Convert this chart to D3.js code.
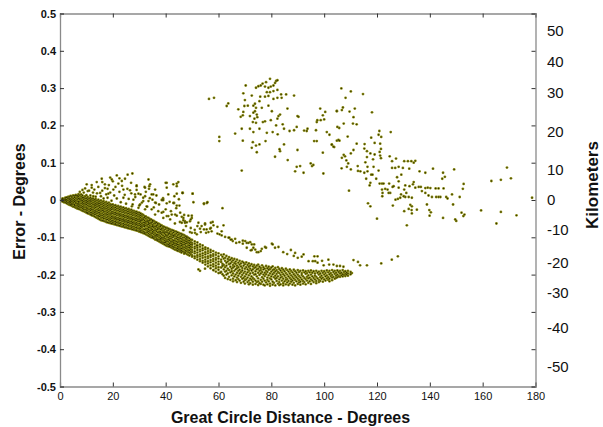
<!DOCTYPE html>
<html>
<head>
<meta charset="utf-8">
<script src="https://cdn.jsdelivr.net/npm/d3@7"></script>
<style>
body { margin: 0; background: #fff; }
text { font-family: Arial, "Liberation Sans", sans-serif; }
</style>
</head>
<body>
<svg width="603" height="427"></svg>
<script>
// tick values
var xTicks = [0, 20, 40, 60, 80, 100, 120, 140, 160, 180];
var yTicks = [0.5, 0.4, 0.3, 0.2, 0.1, 0, -0.1, -0.2, -0.3, -0.4, -0.5];
var kmLabels = [50, 40, 30, 20, 10, 0, -10, -20, -30, -40, -50];
var kmAt = [0.454, 0.371, 0.288, 0.184, 0.082, 0, -0.079, -0.168, -0.248, -0.342, -0.446];

// dense main band, read column by column (degrees -> errors)
var coreDeg = [0.5,1,1.5,2,2.5,3,3.5,4,4.5,5,5.5,6,6.5,7,7.5,8,8.5,9,9.5,10,10.5,11,11.5,12,12.5,13,13.5,14,14.5,15,15.5,16,16.5,17,17.5,18,18.5,19,19.5,20,20.5,21,21.5,22,22.5,23,23.5,24,24.5,25,25.5,26,26.5,27,27.5,28,28.5,29,29.5,30,30.5,
  31,31.5,32,32.5,33,33.5,34,34.5,35,35.5,36,36.5,37,37.5,38,38.5,39,39.5,40,40.5,41,41.5,42,42.5,43,43.5,44,44.5,45,45.5,46,46.5,47,47.5,48,48.5,49,49.5,50,51,52,53,54,55,56,57,58,59,60];
var coreErr = [
  [0.002,-0.001,-0.003],[0.004,0.001,-0.004],[0.003,0,-0.003,-0.006],[0.006,0.002,-0.002,-0.007],
  [0.007,0.001,-0.003,-0.005,-0.009],[0.008,0.004,-0.001,-0.007,-0.011],[0.009,0.005,0.001,-0.004,-0.008,-0.013],
  [0.011,0.003,-0.002,-0.006,-0.011,-0.014],[0.01,0.006,0.001,-0.004,-0.009,-0.012,-0.016],[0.012,0.004,-0.002,-0.007,-0.011,-0.018],
  [0.011,0.007,0.001,-0.004,-0.012,-0.015,-0.019],[0.014,0.005,-0.001,-0.006,-0.009,-0.016,-0.021],
  [0.012,0.008,0.002,-0.003,-0.01,-0.014,-0.019,-0.023],[0.01,0.004,-0.004,-0.008,-0.013,-0.018,-0.024],
  [0.013,0.005,0.001,-0.005,-0.011,-0.016,-0.021,-0.025],[0.009,0.003,-0.002,-0.009,-0.015,-0.02,-0.027],
  [0.012,0.006,-0.001,-0.006,-0.011,-0.018,-0.023,-0.029],[0.007,0.002,-0.004,-0.01,-0.016,-0.021,-0.025,-0.03],
  [0.01,0.004,-0.002,-0.008,-0.013,-0.019,-0.026,-0.032],[0.005,-0.001,-0.006,-0.012,-0.019,-0.024,-0.029,-0.034],
  [0.008,0.002,-0.004,-0.009,-0.015,-0.022,-0.027,-0.033,-0.036],[0.004,-0.002,-0.008,-0.013,-0.018,-0.025,-0.031,-0.037],
  [0.006,0,-0.005,-0.011,-0.017,-0.023,-0.028,-0.034,-0.039],[0.003,-0.003,-0.009,-0.016,-0.021,-0.026,-0.033,-0.038,-0.041],
  [0.004,-0.001,-0.007,-0.012,-0.019,-0.025,-0.03,-0.036,-0.042],[0.001,-0.005,-0.011,-0.016,-0.022,-0.029,-0.034,-0.039,-0.044],
  [0.003,-0.003,-0.009,-0.014,-0.02,-0.027,-0.032,-0.038,-0.046],[-0.001,-0.007,-0.012,-0.018,-0.025,-0.031,-0.036,-0.042,-0.048],
  [0.001,-0.005,-0.01,-0.016,-0.023,-0.028,-0.034,-0.041,-0.045,-0.05],[-0.003,-0.009,-0.015,-0.02,-0.027,-0.033,-0.038,-0.044,-0.052],
  [-0.001,-0.007,-0.012,-0.019,-0.024,-0.03,-0.037,-0.042,-0.048,-0.054],[-0.005,-0.011,-0.017,-0.023,-0.028,-0.035,-0.041,-0.047,-0.055],
  [-0.003,-0.009,-0.015,-0.021,-0.027,-0.032,-0.039,-0.045,-0.05,-0.056],[-0.007,-0.013,-0.019,-0.024,-0.031,-0.037,-0.043,-0.049,-0.057],
  [-0.005,-0.011,-0.017,-0.023,-0.029,-0.035,-0.04,-0.047,-0.053,-0.059],[-0.009,-0.015,-0.021,-0.027,-0.033,-0.039,-0.045,-0.052,-0.06],
  [-0.007,-0.013,-0.019,-0.025,-0.031,-0.037,-0.043,-0.049,-0.055,-0.061],[-0.011,-0.016,-0.023,-0.028,-0.035,-0.04,-0.047,-0.052,-0.058,-0.062],
  [-0.013,-0.02,-0.025,-0.032,-0.037,-0.044,-0.049,-0.056,-0.063],[-0.012,-0.018,-0.024,-0.031,-0.036,-0.043,-0.048,-0.055,-0.06,-0.064],
  [-0.015,-0.021,-0.027,-0.034,-0.039,-0.046,-0.051,-0.058,-0.065],[-0.014,-0.02,-0.026,-0.033,-0.038,-0.045,-0.05,-0.057,-0.062,-0.066],
  [-0.017,-0.023,-0.029,-0.036,-0.041,-0.048,-0.053,-0.06,-0.067],[-0.016,-0.022,-0.028,-0.035,-0.04,-0.047,-0.052,-0.059,-0.064,-0.068],
  [-0.019,-0.025,-0.031,-0.038,-0.043,-0.05,-0.055,-0.062,-0.069],[-0.018,-0.024,-0.03,-0.037,-0.042,-0.049,-0.054,-0.061,-0.066,-0.07],
  [-0.021,-0.027,-0.033,-0.04,-0.045,-0.052,-0.057,-0.064,-0.071],[-0.02,-0.026,-0.032,-0.039,-0.044,-0.051,-0.056,-0.063,-0.068,-0.072],
  [-0.023,-0.029,-0.035,-0.042,-0.047,-0.054,-0.059,-0.066,-0.073],[-0.022,-0.028,-0.034,-0.041,-0.046,-0.053,-0.058,-0.065,-0.07,-0.074],
  [-0.025,-0.031,-0.037,-0.044,-0.049,-0.056,-0.061,-0.068,-0.075],[-0.024,-0.03,-0.036,-0.043,-0.048,-0.055,-0.06,-0.067,-0.072,-0.076],
  [-0.027,-0.033,-0.039,-0.046,-0.051,-0.058,-0.063,-0.07,-0.077],[-0.026,-0.032,-0.038,-0.045,-0.05,-0.057,-0.062,-0.069,-0.074,-0.078],
  [-0.029,-0.035,-0.041,-0.048,-0.053,-0.06,-0.065,-0.072,-0.079],[-0.029,-0.034,-0.04,-0.047,-0.052,-0.059,-0.064,-0.071,-0.076,-0.08],
  [-0.032,-0.037,-0.043,-0.05,-0.055,-0.062,-0.067,-0.074,-0.081],[-0.031,-0.036,-0.042,-0.049,-0.054,-0.061,-0.066,-0.073,-0.078,-0.082],
  [-0.034,-0.039,-0.045,-0.052,-0.057,-0.064,-0.069,-0.076,-0.083],[-0.034,-0.04,-0.045,-0.051,-0.057,-0.063,-0.068,-0.075,-0.08,-0.085],
  [-0.036,-0.041,-0.047,-0.054,-0.059,-0.066,-0.071,-0.077,-0.083,-0.086],
  [-0.038,-0.043,-0.051,-0.055,-0.063,-0.069,-0.073,-0.081,-0.087],[-0.04,-0.048,-0.052,-0.06,-0.066,-0.07,-0.078,-0.084,-0.089],
  [-0.043,-0.047,-0.055,-0.061,-0.067,-0.071,-0.079,-0.086,-0.09],[-0.044,-0.05,-0.058,-0.062,-0.068,-0.076,-0.08,-0.088,-0.092],
  [-0.047,-0.054,-0.058,-0.066,-0.07,-0.077,-0.083,-0.087,-0.094],[-0.048,-0.056,-0.061,-0.065,-0.073,-0.079,-0.084,-0.09,-0.096],
  [-0.051,-0.055,-0.063,-0.069,-0.074,-0.082,-0.086,-0.093,-0.098],[-0.052,-0.06,-0.064,-0.072,-0.077,-0.081,-0.089,-0.094,-0.1],
  [-0.055,-0.059,-0.067,-0.071,-0.079,-0.085,-0.089,-0.097,-0.101],[-0.056,-0.064,-0.07,-0.074,-0.082,-0.086,-0.092,-0.099,-0.103],
  [-0.059,-0.063,-0.071,-0.077,-0.081,-0.089,-0.095,-0.099,-0.106],[-0.06,-0.068,-0.072,-0.08,-0.084,-0.092,-0.096,-0.102,-0.107],
  [-0.063,-0.067,-0.075,-0.079,-0.087,-0.093,-0.097,-0.105,-0.109],[-0.064,-0.072,-0.076,-0.084,-0.088,-0.094,-0.1,-0.106,-0.111],
  [-0.067,-0.071,-0.079,-0.085,-0.089,-0.097,-0.103,-0.107,-0.113],[-0.068,-0.076,-0.08,-0.088,-0.092,-0.1,-0.104,-0.11,-0.115],
  [-0.071,-0.075,-0.083,-0.087,-0.095,-0.101,-0.105,-0.113,-0.117],[-0.072,-0.08,-0.086,-0.09,-0.098,-0.102,-0.108,-0.114,-0.119],
  [-0.074,-0.078,-0.086,-0.092,-0.096,-0.104,-0.11,-0.114,-0.121],[-0.075,-0.083,-0.087,-0.095,-0.099,-0.107,-0.111,-0.118,-0.123],
  [-0.077,-0.081,-0.089,-0.093,-0.101,-0.106,-0.112,-0.119,-0.124],[-0.078,-0.086,-0.09,-0.098,-0.104,-0.108,-0.116,-0.121,-0.125],
  [-0.08,-0.084,-0.092,-0.097,-0.103,-0.111,-0.115,-0.122,-0.127],[-0.081,-0.089,-0.094,-0.1,-0.107,-0.112,-0.119,-0.124,-0.129],
  [-0.082,-0.087,-0.095,-0.099,-0.108,-0.113,-0.118,-0.126,-0.131],[-0.084,-0.092,-0.096,-0.104,-0.109,-0.116,-0.122,-0.127,-0.133],
  [-0.085,-0.09,-0.098,-0.103,-0.111,-0.117,-0.121,-0.129,-0.134],[-0.087,-0.094,-0.1,-0.106,-0.113,-0.119,-0.125,-0.13,-0.136],
  [-0.088,-0.093,-0.101,-0.107,-0.112,-0.12,-0.126,-0.132,-0.137],[-0.09,-0.098,-0.103,-0.11,-0.116,-0.123,-0.129,-0.134,-0.139],
  [-0.091,-0.096,-0.104,-0.111,-0.117,-0.122,-0.13,-0.136,-0.141],[-0.093,-0.101,-0.107,-0.113,-0.12,-0.126,-0.131,-0.138],
  [-0.094,-0.1,-0.108,-0.114,-0.119,-0.127,-0.133,-0.14,-0.144],[-0.097,-0.104,-0.11,-0.117,-0.123,-0.129,-0.136,-0.142],
  [-0.098,-0.105,-0.111,-0.116,-0.125,-0.131,-0.137,-0.145],[-0.101,-0.108,-0.114,-0.121,-0.127,-0.134,-0.14,-0.147],
  [-0.103,-0.109,-0.116,-0.122,-0.128,-0.135,-0.142,-0.149],[-0.106,-0.113,-0.119,-0.125,-0.132,-0.139,-0.145],
  [-0.107,-0.115,-0.12,-0.127,-0.134,-0.14,-0.148,-0.152],[-0.111,-0.117,-0.125,-0.13,-0.138,-0.143,-0.151,-0.156],
  [-0.114,-0.122,-0.128,-0.134,-0.141,-0.148,-0.153,-0.16],[-0.119,-0.125,-0.133,-0.138,-0.146,-0.151,-0.158,-0.164],
  [-0.122,-0.13,-0.135,-0.143,-0.149,-0.155,-0.163,-0.168],[-0.127,-0.132,-0.14,-0.146,-0.153,-0.16,-0.166,-0.173],
  [-0.13,-0.137,-0.143,-0.151,-0.156,-0.164,-0.17,-0.178],[-0.134,-0.14,-0.148,-0.153,-0.161,-0.167,-0.175,-0.183],
  [-0.137,-0.145,-0.15,-0.158,-0.164,-0.172,-0.178,-0.188],[-0.141,-0.147,-0.155,-0.16,-0.168,-0.176,-0.183,-0.192],
  [-0.143,-0.151,-0.157,-0.165,-0.172,-0.18,-0.187,-0.196]
];

// looser band from 61 to 110 degrees
var tailDeg = [61,61.5,62,62.5,63,63.5,64,64.5,65,65.5,66,66.5,67,67.5,68,68.5,69,69.5,70,70.5,71,71.5,72,72.5,73,73.5,74,74.5,75,75.5,
  76,76.5,77,77.5,78,78.5,79,79.5,80,80.5,81,81.5,82,82.5,83,83.5,84,84.5,85,85.5,86,86.5,87,87.5,88,88.5,89,89.5,90,90.5,
  91,91.5,92,92.5,93,93.5,94,94.5,95,95.5,96,96.5,97,97.5,98,98.5,99,99.5,100,100.5,101,101.5,102,102.5,103,103.5,104,104.5,105,105.5,
  106,106.5,107,107.5,108,108.5,109,110,110.5];
var tailErr = [
  [-0.147,-0.16,-0.166,-0.181,-0.193],[-0.152,-0.171,-0.177,-0.199],[-0.146,-0.157,-0.174,-0.186,-0.203],[-0.155,-0.163,-0.18,-0.192,-0.209],
  [-0.15,-0.168,-0.176,-0.19,-0.2],[-0.158,-0.165,-0.184,-0.197,-0.212],[-0.153,-0.161,-0.172,-0.188,-0.206],[-0.16,-0.17,-0.179,-0.194,-0.214],
  [-0.156,-0.166,-0.184,-0.191,-0.202],[-0.162,-0.174,-0.181,-0.197,-0.211,-0.218],[-0.158,-0.169,-0.178,-0.19,-0.205],[-0.165,-0.171,-0.186,-0.2,-0.215],
  [-0.16,-0.176,-0.183,-0.195,-0.208,-0.22],[-0.168,-0.18,-0.19,-0.203,-0.212],[-0.163,-0.173,-0.187,-0.197,-0.216],[-0.17,-0.178,-0.193,-0.206,-0.222],
  [-0.165,-0.182,-0.189,-0.201,-0.211],[-0.168,-0.176,-0.196,-0.209,-0.219],[-0.172,-0.184,-0.192,-0.205,-0.215,-0.224],[-0.167,-0.18,-0.199,-0.212],
  [-0.174,-0.186,-0.194,-0.208,-0.22],[-0.17,-0.179,-0.19,-0.202,-0.216,-0.226],[-0.176,-0.184,-0.197,-0.211,-0.223],[-0.172,-0.189,-0.205,-0.214],
  [-0.178,-0.186,-0.195,-0.209,-0.219,-0.227],[-0.174,-0.182,-0.2,-0.212],[-0.18,-0.191,-0.199,-0.216,-0.225],[-0.176,-0.186,-0.205,-0.22],
  [-0.173,-0.184,-0.195,-0.21,-0.218,-0.228],[-0.179,-0.19,-0.201,-0.223],[-0.182,-0.188,-0.197,-0.214,-0.225],[-0.175,-0.193,-0.207,-0.219],
  [-0.18,-0.186,-0.2,-0.211,-0.227],[-0.184,-0.195,-0.204,-0.216,-0.229],[-0.177,-0.19,-0.199,-0.221],[-0.183,-0.193,-0.208,-0.214,-0.226],
  [-0.179,-0.187,-0.202,-0.218],[-0.185,-0.197,-0.21,-0.224,-0.23],[-0.181,-0.192,-0.205,-0.213],[-0.178,-0.188,-0.199,-0.219,-0.227],
  [-0.186,-0.195,-0.207,-0.222],[-0.182,-0.191,-0.203,-0.211,-0.229],[-0.188,-0.198,-0.209,-0.217],[-0.18,-0.193,-0.205,-0.224],
  [-0.185,-0.196,-0.213,-0.22,-0.228],[-0.189,-0.201,-0.208,-0.226],[-0.183,-0.194,-0.206,-0.216],[-0.187,-0.199,-0.211,-0.223,-0.229],
  [-0.191,-0.203,-0.218],[-0.184,-0.196,-0.208,-0.214,-0.226],[-0.188,-0.2,-0.212,-0.221],[-0.192,-0.205,-0.217,-0.228],
  [-0.186,-0.197,-0.209,-0.224],[-0.19,-0.202,-0.213,-0.219],[-0.194,-0.206,-0.216,-0.227],[-0.187,-0.199,-0.21,-0.222],
  [-0.191,-0.203,-0.214,-0.229],[-0.195,-0.207,-0.218],[-0.188,-0.2,-0.211,-0.225],[-0.193,-0.204,-0.215,-0.221],
  [-0.19,-0.208,-0.219,-0.227],[-0.196,-0.201,-0.213],[-0.189,-0.205,-0.217,-0.224],[-0.194,-0.209,-0.22],
  [-0.191,-0.198,-0.212,-0.226],[-0.196,-0.206,-0.216],[-0.19,-0.202,-0.21,-0.222],[-0.194,-0.208,-0.218],
  [-0.189,-0.2,-0.213,-0.225],[-0.195,-0.205,-0.216],[-0.191,-0.209,-0.22],[-0.197,-0.203,-0.213],
  [-0.19,-0.206,-0.217,-0.223],[-0.195,-0.21],[-0.192,-0.2,-0.214,-0.22],[-0.197,-0.207,-0.217],
  [-0.19,-0.203,-0.211],[-0.195,-0.208,-0.219],[-0.191,-0.2,-0.213],[-0.196,-0.205,-0.216],
  [-0.189,-0.202,-0.21],[-0.194,-0.207,-0.214],[-0.19,-0.199,-0.211,-0.218],[-0.196,-0.204],
  [-0.188,-0.201,-0.208,-0.215],[-0.193,-0.206],[-0.19,-0.198,-0.211],[-0.195,-0.203,-0.209],
  [-0.189,-0.2,-0.207],[-0.193,-0.204],[-0.19,-0.197,-0.206],[-0.195,-0.202],
  [-0.188,-0.199,-0.205],[-0.193,-0.201],[-0.191,-0.198,-0.204],[-0.195,-0.2],
  [-0.19,-0.197,-0.203],[-0.193,-0.199],[-0.196]
];

// scattered points above the dense band (0-60 degrees)
var fanPts = [
  [21.5,0.066],[25.6,0.068],[27.4,0.071],[19.6,0.055],[15.8,0.057],[13.9,0.048],[10.1,0.042],[12.0,0.033],[17.0,0.042],[22.1,0.044],
  [23.4,0.051],[24.6,0.057],[26.9,0.046],[29.0,0.039],[32.0,0.035],[34.1,0.042],[36.0,0.028],[40.0,0.046],[42.9,0.042],[44.8,0.048],
  [44.2,0.017],[46.3,0.019],[34.7,0.015],[32.2,0.010],[29.7,0.017],[26.5,0.026],[24.0,0.028],[20.2,0.028],[18.3,0.017],[15.2,0.019],
  [12.6,0.010],[24.0,0.006],[27.8,0.001],[31.0,-0.007],[33.5,-0.003],[36.0,-0.007],[38.5,0.0],[40.4,-0.009],[42.9,-0.008],[44.2,-0.015],
  [34.7,-0.025],[37.2,-0.030],[39.1,-0.032],[36.0,-0.039],[32.2,-0.025],[29.7,-0.021],[27.2,-0.017],[41.0,-0.043],[43.6,-0.039],
  [45.5,-0.034],[46.7,-0.054],[35.0,0.001],[41.0,0.015],[43.3,0.010],
  [29.0,0.037],[32.2,0.033],[33.8,0.037],[33.7,0.030],[40.4,0.046],[44.2,0.044],[40.4,0.033],[44.2,0.037],[46.4,0.019],[50.2,0.017],
  [43.2,-0.008],[45.2,-0.015],[50.5,-0.006],[54.5,-0.009],[55.8,-0.006],[35.3,0.015],[39.1,0.0],[36.3,-0.008],[31.5,0.006],[28.4,0.015],
  [30.3,-0.012],[32.8,-0.017],[38.5,-0.034],[40.4,-0.043],[42.3,-0.039],[44.2,-0.042],[46.1,-0.045],[48.6,-0.042],[49.9,-0.048],
  [49.2,-0.057],[47.3,-0.061],[45.4,-0.059],[43.5,-0.063],[41.7,-0.052],[39.1,-0.048],[52.4,-0.061],[53.6,-0.070],[54.9,-0.066],
  [55.5,-0.079],[56.8,-0.077],[57.4,-0.084],[59.6,-0.090],[51.8,-0.092],[49.9,-0.088],[48.0,-0.101],[51.8,-0.122],
  [8,0.015],[9,0.02],[10,0.013],[11,0.025],[11.5,0.012],[12.5,0.02],[13,0.028],[13.5,0.009],[14,0.018],[14.5,0.035],[15.5,0.01],
  [16,0.025],[16.5,0.004],[17,0.032],[17.5,0.015],[18,0.006],[18.5,0.04],[19,0.02],[19.5,-0.002],[20.5,0.012],[21,0.035],[21.5,0.004],
  [22.5,0.022],[23,-0.006],[23.5,0.038],[24.5,0.014],[25,-0.01],[25.5,0.03],[26,0.003],[27,0.018],[27.5,-0.012],[28.5,0.008],[29,0.027],
  [30,-0.015],[30.5,0.015],[31.5,-0.003],[32.5,0.022],[33,-0.018],[34,0.005],[35.5,-0.02],[36.5,0.012],[37.5,-0.012],[39,0.005],
  [40,-0.025],[41.5,-0.005],[42,-0.03],[44,-0.022],[45,0.002],[47,-0.04],[48,-0.06],[49.5,-0.075],[51,-0.08],[6,0.012],[7,0.016],
  [7.5,0.022],[8.5,0.027],[9.5,0.031],[10.5,0.024],[12,0.04],[20,0.05],[19,0.06],[22.5,0.058],[16,0.048],[18,0.03],[33.5,0.055],
  [38.9,0.0],[52.4,-0.186],[54.9,-0.184],[58.1,-0.188],[60.6,-0.195],[53,-0.19]
];

// upper branch of the band (45-128 degrees)
var branchPts = [
  [46.5,0.019],[50.2,0.017],[54.5,-0.011],[55.6,-0.008],[61.5,-0.022],[46.7,-0.048],[49.9,-0.042],[49.5,-0.052],[46.1,-0.061],
  [47.3,-0.057],[47.7,-0.070],[46.7,-0.081],[49.2,-0.086],[51.1,-0.088],[52.0,-0.070],[53.0,-0.077],[53.3,-0.086],[54.5,-0.079],
  [54.9,-0.063],[57.1,-0.061],[57.8,-0.059],[58.1,-0.068],[57.1,-0.075],[56.2,-0.086],[55.3,-0.088],[59.6,-0.072],[60.4,-0.092],
  [61.2,-0.084],[61.9,-0.068],[61.2,-0.095],[62.5,-0.099],[64.1,-0.101],[64.6,-0.106],[65.4,-0.110],[66.3,-0.104],[67.9,-0.113],
  [69.2,-0.109],[70.1,-0.110],[70.7,-0.115],[72.0,-0.113],[73.5,-0.119],[72.6,-0.134],[73.9,-0.133],[75.1,-0.140],[76.0,-0.137],
  [78.0,-0.128],[80.5,-0.119],[81.4,-0.128],[82.7,-0.126],[87.4,-0.134],[92.2,-0.146],[63.8,-0.101],[65.0,-0.106],[66.7,-0.115],
  [69.2,-0.117],[71.3,-0.115],[72.6,-0.119],[73.2,-0.128],[72.2,-0.135],[70.7,-0.128],[74.5,-0.140],[76.4,-0.131],[77.6,-0.126],
  [80.2,-0.117],[94.1,-0.164],[96.6,-0.164],[97.5,-0.151],[84.5,-0.14],[86,-0.145],[88.5,-0.15],[90,-0.155],[91.5,-0.152],[89,-0.142],
  [96.3,-0.151],[95.7,-0.164],[97.5,-0.168],[99.2,-0.163],[99.8,-0.175],[101.6,-0.16],[101.9,-0.173],[103.5,-0.173],[104.8,-0.177],
  [106,-0.177],[107.3,-0.179],[111.1,-0.161],[112.8,-0.166],[113.6,-0.175],[116.2,-0.175],[121.6,-0.17],[125.6,-0.16],[127.9,-0.151]
];

// cloud above zero, 56-106 degrees
var upperPts = [
  [56.4,0.271],[58.3,0.274],[63.1,0.252],[63.7,0.259],[60.3,0.169],[60.3,0.158],[66.3,0.178],[68.8,0.191],[69.2,0.159],[68.8,0.079],
  [70.3,0.307],[69.4,0.286],[70.0,0.268],[69.8,0.252],[71.1,0.253],[72.6,0.280],[73.2,0.253],[73.8,0.258],[74.2,0.247],[67.5,0.243],
  [69.4,0.236],[69.2,0.227],[68.4,0.223],[71.9,0.225],[73.2,0.234],[73.8,0.238],[74.5,0.229],[73.6,0.218],[73.0,0.209],[74.2,0.207],
  [74.7,0.222],[75.8,0.277],[75.5,0.265],[76.4,0.247],[76.8,0.209],[77.6,0.211],[78.9,0.253],[79.8,0.214],[80.2,0.238],[71.9,0.191],
  [73.2,0.182],[75.5,0.191],[73.0,0.155],[74.2,0.146],[75.5,0.149],[72.6,0.140],[74.5,0.128],[77.8,0.158],[78.3,0.180],[80.5,0.182],
  [82.4,0.176],[81.8,0.200],[82.7,0.225],[83.3,0.229],[82.3,0.218],[84.3,0.203],[84.8,0.191],[86.1,0.245],[85.6,0.283],[88.6,0.280],
  [86.9,0.185],[88.6,0.187],[89.6,0.196],[89.9,0.225],[90.3,0.223],[79.5,0.325],[78.0,0.316],[76.7,0.312],[76.0,0.307],[75.1,0.305],
  [74.2,0.301],[77.6,0.304],[78.9,0.301],[79.8,0.304],[80.8,0.307],[81.4,0.314],[81.8,0.319],[82.3,0.321],[78.3,0.289],[79.5,0.289],
  [80.8,0.292],[82.3,0.295],[83.7,0.283],[83.9,0.274],[82.3,0.274],[80.8,0.271],[78.9,0.279],[77.6,0.277],[83.3,0.131],[83.1,0.136],
  [84.8,0.149],[81.4,0.116],[86.2,0.107],[89.9,0.134],[89.6,0.089],[90.9,0.091],[89.0,0.077],[92.2,0.073],[94.9,0.098],[95.4,0.091],
  [95.9,0.094],[92.4,0.186],[93.7,0.191],[93.4,0.185],[96.9,0.187],[97.2,0.209],[97.4,0.214],[98.7,0.214],[100.0,0.216],[99.5,0.227],
  [98.5,0.245],[100.4,0.236],[101.0,0.182],[102.0,0.175],[97.2,0.158],[96.2,0.158],[99.5,0.127],[102.9,0.149],[103.5,0.143],
  [104.8,0.238],[105.4,0.161],[105.0,0.196],[99.7,0.071]
];

// cloud on the right, 102-179 degrees
var farPts = [
  [106.5,0.299],[110.1,0.291],[108.1,0.274],[114.7,0.284],[104.8,0.239],[106.7,0.241],[107.1,0.248],[109.6,0.237],[111.6,0.245],
  [111.1,0.222],[118.1,0.235],[107.4,0.205],[110.9,0.205],[112.3,0.203],[105.7,0.193],[108.9,0.170],[104.8,0.159],[105.8,0.159],
  [102.9,0.148],[103.8,0.142],[112.3,0.151],[115.3,0.150],[115.2,0.138],[117.8,0.167],[119.1,0.153],[120.9,0.185],[120.6,0.175],
  [121.6,0.169],[121.2,0.151],[121.5,0.137],[125.2,0.182],[111.1,0.134],[110.1,0.125],[107.4,0.121],[107.9,0.117],[106.7,0.113],
  [108.4,0.106],[109.1,0.098],[108.6,0.089],[106.6,0.085],[110.1,0.082],[112.7,0.091],[113.7,0.077],[112.8,0.078],[116.2,0.131],
  [116.2,0.115],[115.6,0.101],[117.5,0.125],[119.1,0.122],[118.5,0.109],[121.0,0.129],[121.2,0.119],[121.5,0.112],[120.6,0.079],
  [116.4,0.089],[116.4,0.077],[118.7,0.089],[115.2,0.073],[117.8,0.068],[118.3,0.068],[115.9,0.057],[117.5,0.046],[117.2,0.039],
  [119.7,0.057],[121.0,0.044],[121.9,0.044],[122.5,0.044],[124.6,0.044],[121.9,0.028],[123.1,0.030],[122.1,0.019],[122.0,0.010],
  [124.0,0.028],[124.4,0.019],[125.9,0.035],[126.3,0.037],[125.0,0.019],[124.8,0.117],[125.7,0.104],[127.2,0.111],[125.7,0.086],
  [126.9,0.086],[128.2,0.089],[129.8,0.086],[130.3,0.104],[131.7,0.104],[133.0,0.104],[133.9,0.100],[134.5,0.105],[132.2,0.084],
  [129.2,0.068],[127.6,0.061],[128.2,0.050],[128.2,0.033],[130.3,0.028],[130.7,0.039],[131.1,0.019],[132.3,0.037],[133.9,0.048],
  [133.6,0.042],[134.5,0.033],[135.8,0.035],[136.6,0.035],[138.3,0.032],[139.2,0.033],[140.2,0.032],[142.2,0.031],[143.3,0.031],
  [145.2,0.031],[137.0,0.024],[138.3,0.019],[139.5,0.012],[140.8,0.008],[142.4,0.008],[143.3,0.008],[144.0,0.008],[146.2,0.008],
  [146.7,0.004],[148.4,0.015],[151.3,0.008],[152.8,0.043],[152.5,0.030],[130.7,0.008],[132.0,0.008],[133.2,0.006],[130.1,0.010],
  [128.8,0.006],[127.9,0.003],[129.1,0.015],[127.0,0.001],[126.0,-0.015],[116.6,-0.009],[117.5,-0.017],[132.6,-0.013],[133.2,-0.017],
  [132.0,-0.024],[133.1,-0.027],[135.1,-0.026],[130.3,-0.030],[133.2,-0.036],[138.9,-0.012],[139.8,-0.027],[140.4,-0.033],
  [139.9,-0.042],[145.0,-0.048],[148.8,-0.012],[149.6,-0.052],[150.0,-0.056],[131.3,-0.068],[152.0,-0.034],[153.1,-0.039],
  [152.7,-0.043],[159.4,-0.028],[165.2,-0.063],[166.9,-0.032],[172.8,-0.041],[163.3,0.051],[166.9,0.054],[169.2,0.087],[170.7,0.058],
  [178.7,0.006],[120.0,-0.050],[109.4,0.025],[141.2,0.084],[145.0,0.073],[145.7,0.062],[144.7,0.057],[149.2,0.082],[136.1,0.077],
  [138.3,0.073]
];

var svg = d3.select("svg");
svg.append("rect").attr("width", 603).attr("height", 427).attr("fill", "#fff");

var x = d3.scaleLinear().domain([0, 180]).range([60, 535.5]);
var y = d3.scaleLinear().domain([-0.5, 0.5]).range([386.5, 13.5]);

// gather every point
var points = [];
coreDeg.forEach(function(d, i) { coreErr[i].forEach(function(e) { points.push([d, e]); }); });
tailDeg.forEach(function(d, i) { tailErr[i].forEach(function(e) { points.push([d, e]); }); });
points = points.concat(fanPts, branchPts, upperPts, farPts);

var dots = svg.append("g");
dots.selectAll("circle.o").data(points).enter().append("circle")
    .attr("class", "o")
    .attr("cx", function(d) { return x(d[0]); })
    .attr("cy", function(d) { return y(d[1]); })
    .attr("r", 1.4)
    .attr("fill", "#8c8c14");
dots.selectAll("circle.i").data(points).enter().append("circle")
    .attr("class", "i")
    .attr("cx", function(d) { return x(d[0]); })
    .attr("cy", function(d) { return y(d[1]); })
    .attr("r", 0.65)
    .attr("fill", "#2e2e00");

// axes
function styleAxis(g) {
    g.select(".domain").attr("stroke", "#8a8a8a").attr("stroke-width", 1.3);
    g.selectAll(".tick line").attr("stroke", "#333");
}

svg.append("g").attr("transform", "translate(0,386.5)")
    .call(d3.axisBottom(x).tickValues(xTicks).tickSize(-4).tickPadding(6).tickFormat(d3.format("d")))
    .call(styleAxis)
    .selectAll("text").attr("font-size", 11).attr("fill", "#111")
    .style("font-family", "Arial, 'Liberation Sans', sans-serif");

svg.append("g").attr("transform", "translate(0,13.5)")
    .call(d3.axisTop(x).tickValues(xTicks).tickSize(-4).tickFormat(""))
    .call(styleAxis);

svg.append("g").attr("transform", "translate(60,0)")
    .call(d3.axisLeft(y).tickValues(yTicks).tickSize(-4).tickPadding(4)
        .tickFormat(function(d) { return d === 0 ? "0" : d.toFixed(1); }))
    .call(styleAxis)
    .selectAll("text").attr("font-size", 11).attr("font-weight", "bold").attr("fill", "#111")
    .style("font-family", "Arial, 'Liberation Sans', sans-serif");

svg.append("g").attr("transform", "translate(535.5,0)")
    .call(d3.axisRight(y).tickValues(yTicks).tickSize(-4).tickFormat(""))
    .call(styleAxis);

// kilometre labels on the right
svg.append("g").selectAll("text").data(kmLabels).enter().append("text")
    .attr("x", 547)
    .attr("y", function(d, i) { return y(kmAt[i]); })
    .attr("dy", "0.36em")
    .attr("font-size", 15)
    .attr("fill", "#111")
    .text(function(d) { return d; });

// axis titles
svg.append("text")
    .attr("x", 290.5).attr("y", 422.5)
    .attr("text-anchor", "middle")
    .attr("font-size", 16).attr("font-weight", "bold").attr("fill", "#111")
    .text("Great Circle Distance - Degrees");

svg.append("text")
    .attr("transform", "translate(25,201.5) rotate(-90)")
    .attr("text-anchor", "middle")
    .attr("font-size", 16).attr("font-weight", "bold").attr("fill", "#111")
    .text("Error - Degrees");

svg.append("text")
    .attr("transform", "translate(598,185) rotate(-90)")
    .attr("text-anchor", "middle")
    .attr("font-size", 17).attr("font-weight", "bold").attr("fill", "#111")
    .text("Kilometers");
</script>
</body>
</html>
